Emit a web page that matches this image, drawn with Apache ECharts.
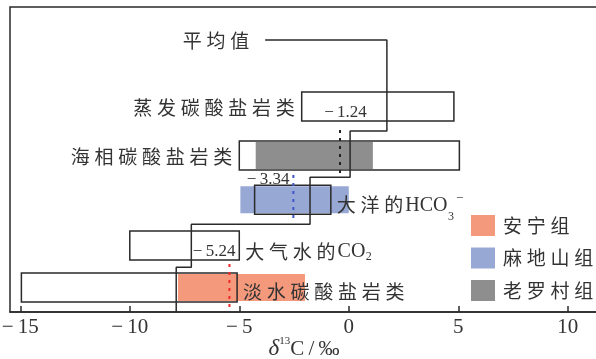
<!DOCTYPE html>
<html><head><meta charset="utf-8">
<script src="https://cdn.jsdelivr.net/npm/echarts@6/dist/echarts.min.js"></script>
<style>html,body{margin:0;padding:0;background:#fff}#c{width:596px;height:359px}</style>
</head><body><div id="c"></div><script>
// ---- data ----
const rowNames = ['蒸发碳酸盐岩类', '海相碳酸盐岩类', '大洋的HCO3−', '大气水的CO2', '淡水碳酸盐岩类'];
const rowPos = [4.54, 3.46, 2.48, 1.47, 0.54];
const rangeMin = [-2.15, -5.0, -4.3, -10.0, -14.95];
const rangeMax = [4.8, 5.05, -0.82, -5.0, -5.1];
const formations = ['安宁组', '麻地山组', '老罗村组'];
const formRow = [4, 2, 1];
const formMin = [-7.8, -4.95, -4.25];
const formMax = [-2.0, 0.0, 1.1];
const meanLabels = ['−5.24', '−3.34', '−1.24'];
const meanLineX = [-5.45, -2.53, -0.4];
const meanLineTop = [1.06, 3.03, 4.02];
const meanLineBottom = [0, 2.03, 2.98];
const meanLabelX = [-6.15, -3.68, -0.15];
const meanLabelY = [1.33, 2.92, 4.40];
const meanTitle = '平均值';
const stepX = [-3.82, 1.74, 1.74, 0.06, 0.06, -1.77, -1.77, -7.19, -7.19, -7.88, -7.88];
const stepY = [6.01, 6.01, 4.00, 4.00, 2.98, 2.98, 1.94, 1.94, 0.99, 0.99, 0];
const xTicks = [-15, -10, -5, 0, 5, 10];

// ---- styles ----
const FONT_CJK = "'Noto Sans CJK SC', sans-serif";
const FONT_LAT = "'Liberation Serif', serif";
const TXT = '#333';
const formColors = ['#F4997C', '#97A8D5', '#8E8E8E'];
const meanColors = ['#F02828', '#3F55C8', '#222'];
const labelDy = [1, 1, 5, 6, 4];
const sp = s => s.split('').join('\u2005');
const BOX_H = 29, FILL_H = 27;
const CJK_F = '19px ' + FONT_CJK, LAT_F = '20px ' + FONT_LAT, SUB_F = '12px ' + FONT_LAT, SUP_F = '13px ' + FONT_LAT;
const mctx = document.createElement('canvas').getContext('2d');
function tw(t, f) { mctx.font = f; return mctx.measureText(t).width; }
function txt(t, x, y, f, align) {
  return {type: 'text', x: x, y: y, style: {text: t, font: f, fill: TXT, align: align || 'left', verticalAlign: 'middle'}};
}
function labelGroup(name, x0, y0, alignRight) {
  const m = name.match(/^([^A-Z]+)([A-Z]+)(\d?)(−?)$/);
  if (!m || alignRight) return [txt(sp(name), x0, y0, CJK_F, alignRight ? 'right' : 'left')];
  const cjk = sp(m[1]);
  const kids = [txt(cjk, x0, y0, CJK_F)];
  let x = x0 + tw(cjk, CJK_F) + 2;
  const hasSup = !!m[4];
  kids.push(txt(m[2], x, y0 + (hasSup ? 1 : 0), LAT_F));
  x += tw(m[2], LAT_F);
  if (m[3]) { kids.push(txt(m[3], x + 0.5, y0 + (hasSup ? 12 : 5), SUB_F)); x += tw(m[3], SUB_F) + 1.5; }
  if (hasSup) kids.push(txt(m[4], x + 1, y0 - 6, SUP_F));
  return kids;
}

const fillSeries = formations.map((f, k) => ({
  name: f, type: 'custom', z: 1, color: formColors[k],
  data: [[formMin[k], formMax[k], rowPos[formRow[k]]]],
  renderItem(params, api) {
    const a = api.coord([api.value(0), api.value(2)]);
    const b = api.coord([api.value(1), api.value(2)]);
    return {type: 'rect', shape: {x: a[0], y: a[1] - FILL_H / 2, width: b[0] - a[0], height: FILL_H},
      style: {fill: formColors[k]}};
  }
}));

const boxSeries = {
  type: 'custom', z: 2,
  data: rowNames.map((n, i) => [rangeMin[i], rangeMax[i], rowPos[i]]),
  renderItem(params, api) {
    const a = api.coord([api.value(0), api.value(2)]);
    const b = api.coord([api.value(1), api.value(2)]);
    return {type: 'rect', shape: {x: a[0], y: a[1] - BOX_H / 2, width: b[0] - a[0], height: BOX_H},
      style: {fill: 'none', stroke: '#2a2a2a', lineWidth: 1.5}};
  }
};

const rowLabelSeries = {
  type: 'custom', z: 5,
  data: rowNames.map((n, i) => [rangeMin[i], rangeMax[i], rowPos[i]]),
  renderItem(params, api) {
    const i = params.dataIndex;
    const left = i < 2;
    const p = api.coord([left ? api.value(0) : api.value(1), api.value(2)]);
    return {type: 'group', children: labelGroup(rowNames[i], left ? p[0] - 7 : p[0] + 6, p[1] + labelDy[i], left)};
  }
};

const meanLineSeries = {
  type: 'custom', z: 3,
  data: meanLineX.map((x, k) => [x, meanLineTop[k], meanLineBottom[k]]),
  renderItem(params, api) {
    const k = params.dataIndex;
    const a = api.coord([api.value(0), api.value(1)]);
    const b = api.coord([api.value(0), api.value(2)]);
    return {type: 'line', shape: {x1: a[0], y1: a[1], x2: b[0], y2: b[1]},
      style: {stroke: meanColors[k], lineWidth: 2, lineDash: [3, 5]}};
  }
};

const meanLabelSeries = {
  type: 'custom', z: 5,
  data: meanLabelX.map((x, k) => [x, meanLabelY[k]]),
  renderItem(params, api) {
    const k = params.dataIndex;
    const p = api.coord([api.value(0), api.value(1)]);
    return txt(meanLabels[k].replace('−', '−\u2009'), p[0], p[1], '17px ' + FONT_LAT, 'center');
  }
};

const titleSeries = {
  type: 'custom', z: 5,
  data: [[stepX[0], stepY[0]]],
  renderItem(params, api) {
    const p = api.coord([api.value(0), api.value(1)]);
    return txt(sp(meanTitle), p[0] - 16, p[1] + 1, CJK_F, 'right');
  }
};

const stepSeries = {
  type: 'line', z: 4, symbol: 'none', silent: true,
  data: stepX.map((x, i) => [x, stepY[i]]),
  lineStyle: {color: '#2a2a2a', width: 1.5}
};

const chart = echarts.init(document.getElementById('c'));
chart.setOption({
  animation: false,
  backgroundColor: '#fff',
  grid: {left: 10, right: -2, top: 7, bottom: 47, show: true, borderColor: '#2a2a2a', borderWidth: 1.5,
    containLabel: false, outerBoundsMode: 'none'},
  legend: {
    data: formations, orient: 'vertical', left: 471, top: 215, padding: 0,
    itemWidth: 24, itemHeight: 21, itemGap: 11.5, icon: 'rect',
    formatter: n => sp(n),
    textStyle: {fontFamily: FONT_CJK, fontSize: 19, color: TXT, lineHeight: 21, padding: [0, 0, 0, 3]}
  },
  xAxis: {
    type: 'value', min: -15.47, max: 11.38,
    axisLine: {show: true, lineStyle: {color: '#2a2a2a', width: 1.5}},
    axisTick: {show: true, inside: true, length: 6, customValues: xTicks, lineStyle: {color: '#2a2a2a', width: 1.5}},
    axisLabel: {customValues: xTicks, margin: 5, fontFamily: FONT_LAT, fontSize: 21, color: TXT,
      formatter: v => v < 0 ? '−\u2009' + Math.abs(v) : String(v)},
    splitLine: {show: false},
    name: '{i|δ}{s|13}{n|C\u2009/\u2009‰}', nameLocation: 'middle', nameGap: 24, nameMoveOverlap: false,
    nameTextStyle: {rich: {
      i: {fontFamily: FONT_LAT, fontStyle: 'italic', fontSize: 23, color: TXT, lineHeight: 26, verticalAlign: 'middle'},
      s: {fontFamily: FONT_LAT, fontSize: 11, color: TXT, lineHeight: 14, verticalAlign: 'top'},
      n: {fontFamily: FONT_LAT, fontSize: 21, color: TXT, lineHeight: 26, verticalAlign: 'middle'}
    }}
  },
  yAxis: {type: 'value', min: 0, max: 6.74, show: false},
  series: [...fillSeries, boxSeries, meanLineSeries, stepSeries, rowLabelSeries, meanLabelSeries, titleSeries]
});
</script></body></html>
